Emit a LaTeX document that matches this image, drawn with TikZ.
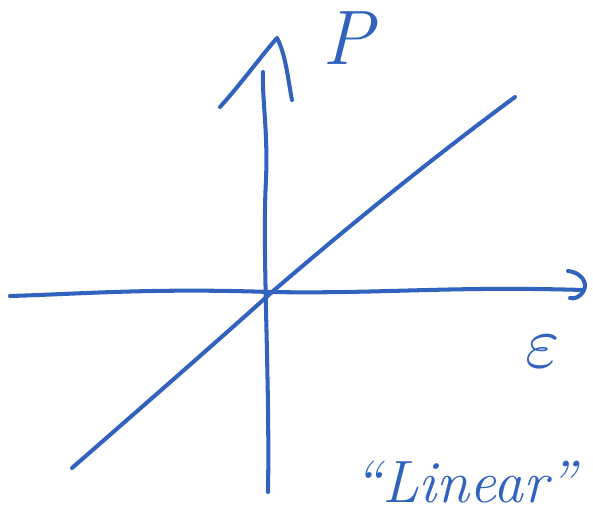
\documentclass[tikz,border=0pt]{standalone}
\usepackage{fontspec}
\definecolor{ink}{RGB}{48,98,190}
\tikzset{
  stroke/.style={draw=ink, line width=2.3pt, line cap=round, line join=round},
  lbl/.style={text=ink, inner sep=0pt}
}
\begin{document}
\begin{tikzpicture}[x=0.02cm,y=-0.02cm]
\useasboundingbox (0,0) rectangle (593,518);
% vertical axis
\coordinate (vb) at (268,492);
\coordinate (vt) at (263,72);
\draw[stroke] (vb) .. controls (270,380) and (262,250) .. (266,180) .. controls (268,130) and (262,100) .. (vt);
% vertical arrowhead
\coordinate (al) at (220,107);
\coordinate (ap) at (277,38);
\coordinate (ar) at (292,100);
\draw[stroke] (al) .. controls (240,85) and (262,55) .. (ap) .. controls (286,55) and (288,80) .. (ar);
% horizontal axis
\coordinate (hl) at (10,296);
\coordinate (hr) at (583,290);
\draw[stroke] (hl) .. controls (80,294) and (150,288) .. (270,292) .. controls (380,294) and (450,286) .. (hr);
% horizontal arrowhead
\coordinate (h1) at (568,271);
\coordinate (h2) at (570,298);
\draw[stroke] (h1) .. controls (580,272) and (588,282) .. (584,290) .. controls (580,298) and (574,299) .. (h2);
% linear line
\coordinate (d1) at (72,468);
\coordinate (d2) at (515,97);
\draw[stroke] (d1) .. controls (150,400) and (230,330) .. (272,292) .. controls (350,225) and (430,160) .. (d2);
% labels
\node[lbl, font={\fontsize{44}{44}\selectfont\itshape}] (P) at (348,38) {P};
\node[lbl] (E) at (543,352) {\scalebox{4.2}{$\varepsilon$}};
\node[lbl, font={\fontsize{34}{34}\selectfont\itshape}] (L) at (465,482) {``Linear''};
\end{tikzpicture}
\end{document}
